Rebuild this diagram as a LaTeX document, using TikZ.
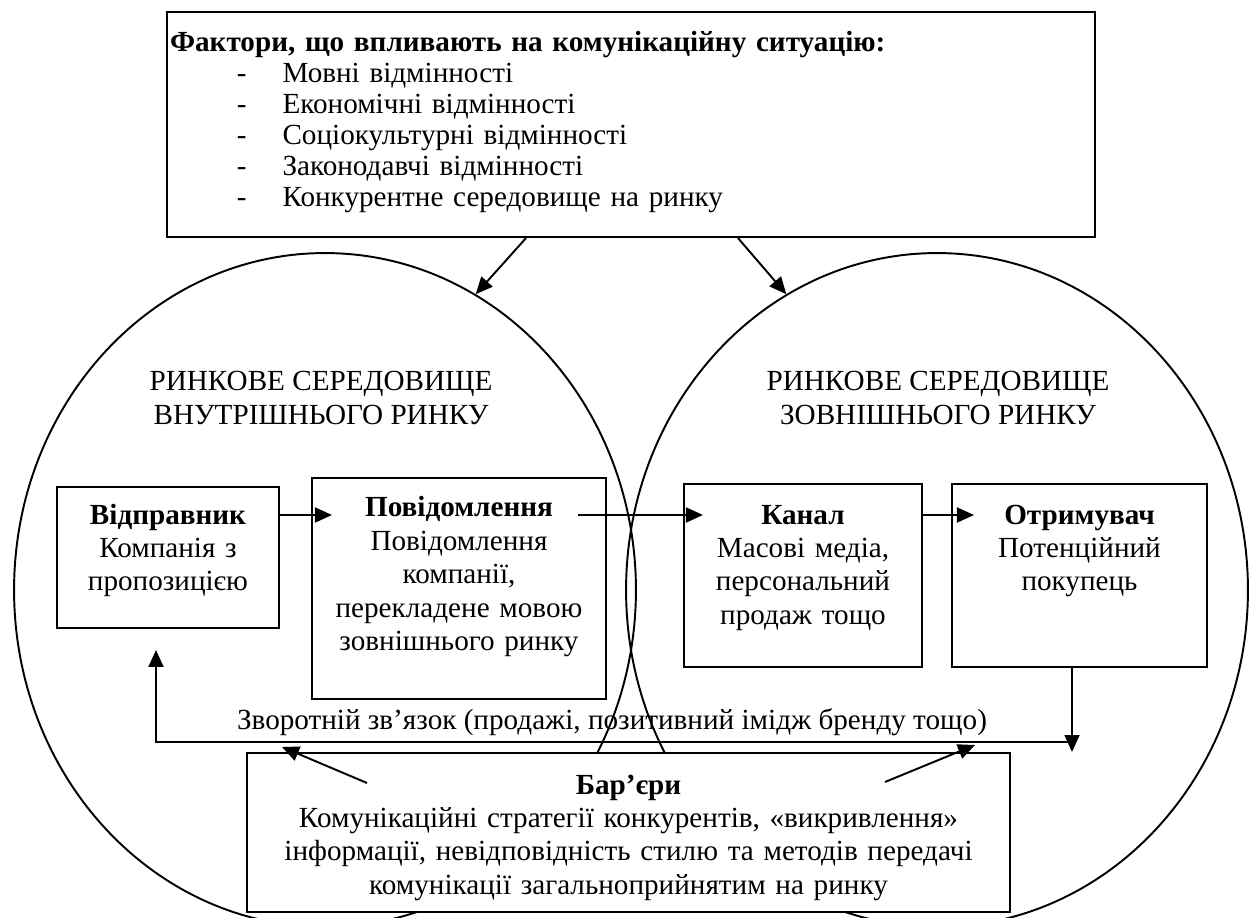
\documentclass[tikz,border=0pt]{standalone}
\usepackage{fontspec}
\setmainfont{Liberation Serif}
\usetikzlibrary{arrows.meta,positioning,shapes.geometric}
\newcommand{\factor}[1]{\hspace*{38pt}\makebox[26pt][l]{-}#1}

\begin{document}
\begin{tikzpicture}[x=0.02cm,y=-0.02cm,font=\fontsize{16.6}{19}\selectfont,
  box/.style={draw,fill=white,line width=1.2pt,align=center,anchor=base,text height=12pt,inner xsep=2pt},
  oval/.style={draw,ellipse,line width=1.1pt,minimum width=12.44cm,minimum height=13.48cm,inner sep=0pt},
  arr/.style={line width=1.1pt,-{Triangle[length=0.34cm,width=0.3cm]}}]
\useasboundingbox (0,0) rectangle (1254,918);
\clip (0,0) rectangle (1254,918);

% market environments
\node[oval] (inner) at (325,590) {};
\node[oval] (outer) at (937,590) {};
\node[align=center] (innertitle) at (321,398) {РИНКОВЕ СЕРЕДОВИЩЕ\\ВНУТРІШНЬОГО РИНКУ};
\node[align=center] (outertitle) at (938,398) {РИНКОВЕ СЕРЕДОВИЩЕ\\ЗОВНІШНЬОГО РИНКУ};

% factors
\node[box,align=left,text width=18.44cm,inner ysep=10.8pt,text depth=94.5pt,font=\fontsize{16.6}{17.6}\selectfont] (fac) at (631,52)
  {\textbf{Фактори, що впливають на комунікаційну ситуацію:}\\
   \factor{Мовні відмінності}\\
   \factor{Економічні відмінності}\\
   \factor{Соціокультурні відмінності}\\
   \factor{Законодавчі відмінності}\\
   \factor{Конкурентне середовище на ринку}};
\draw[arr] ([xshift=-2.1cm]fac.south) -- (inner.63.8);
\draw[arr] ([xshift=2.14cm]fac.south) -- (outer.117.6);

% communication chain
\node[box,text width=4.3cm,inner ysep=9.1pt,text depth=50pt] (send) at (168,524)
  {\textbf{Відправник}\\Компанія з\\пропозицією};
\node[box,text width=5.74cm,inner ysep=10.2pt,text depth=93.4pt] (msg) at (459,517)
  {\textbf{Повідомлення}\\Повідомлення\\компанії,\\перекладене мовою\\зовнішнього ринку};
\node[box,text width=4.62cm,inner ysep=10.8pt,text depth=70.6pt] (chan) at (803,524)
  {\textbf{Канал}\\Масові медіа,\\персональний\\продаж тощо};
\node[box,text width=4.96cm,inner ysep=10.8pt,text depth=70.6pt] (recv) at (1079.5,524)
  {\textbf{Отримувач}\\Потенційний\\покупець};

\coordinate (row) at (0,515);
\draw[arr] (send.east |- row) -- ([xshift=0.42cm]msg.west |- row);
\draw[arr] ([xshift=-0.58cm]msg.east |- row) -- ([xshift=0.4cm]chan.west |- row);
\draw[arr] (chan.east |- row) -- ([xshift=0.46cm]recv.west |- row);

% feedback
\node (fbtext) at (612,722) {Зворотній зв’язок (продажі, позитивний імідж бренду тощо)};
\coordinate (fbl) at (156,742);
\coordinate (fbr) at (1072,742);
\coordinate (fbup) at (156,650);
\coordinate (fbdown) at (1072,752);
\draw[arr] (fbr) -- (fbl) -- (fbup);
\draw[arr] (recv.south -| fbdown) -- (fbdown);

% barriers
\node[box,text width=15.12cm,inner ysep=11.3pt,text depth=55.8pt] (bar) at (628.5,794)
  {\textbf{Бар’єри}\\Комунікаційні стратегії конкурентів, «викривлення»\\
   інформації, невідповідність стилю та методів передачі\\комунікації загальноприйнятим на ринку};
\coordinate (barl) at (367,783);
\coordinate (barlt) at (282,747);
\coordinate (barr) at (885,782);
\coordinate (barrt) at (975,745);
\draw[arr] (barl) -- (barlt);
\draw[arr] (barr) -- (barrt);
\end{tikzpicture}
\end{document}
